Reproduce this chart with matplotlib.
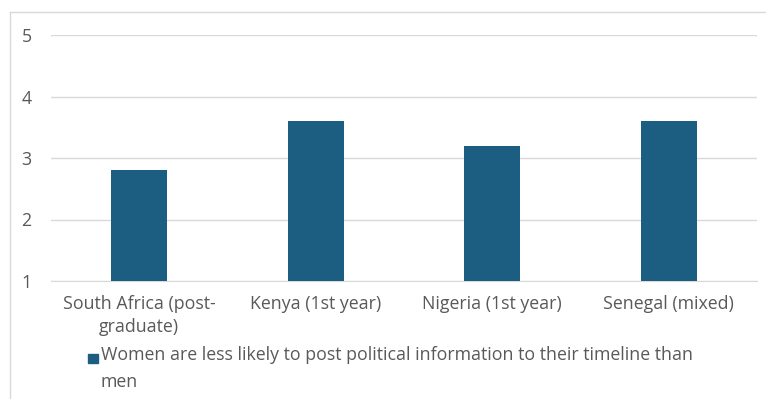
import matplotlib.pyplot as plt
from matplotlib.patches import Rectangle
from matplotlib.lines import Line2D

# --- data ---
categories = ['South Africa (post-\ngraduate)', 'Kenya (1st year)',
              'Nigeria (1st year)', 'Senegal (mixed)']
values = [2.8, 3.6, 3.2, 3.6]
series_label = 'Women are less likely to post political information to their timeline than\nmen'
yticks = [1, 2, 3, 4, 5]

bar_color = '#1B5E82'
text_color = '#595959'
grid_color = '#D9D9D9'

plt.rcParams['font.family'] = ['Open Sans', 'DejaVu Sans']
fs = 12.8

fig = plt.figure(figsize=(7.66, 3.99), dpi=100)
ax = fig.add_axes([51 / 766, 1 - 281 / 399, 706 / 766, 246 / 399])

x = range(len(categories))
# bars start at 1 because the axis starts at 1
ax.bar(x, [v - 1 for v in values], bottom=1, width=0.32, color=bar_color, zorder=3)

ax.set_xlim(-0.5, len(categories) - 0.5)
ax.set_ylim(1, 5)
ax.set_yticks(yticks)
ax.set_yticklabels([str(t) for t in yticks])
ax.set_xticks(list(x))
ax.set_xticklabels(categories, linespacing=1.35)

ax.grid(axis='y', color=grid_color, linewidth=1, zorder=0)
for s in ['top', 'right', 'left']:
    ax.spines[s].set_visible(False)
ax.spines['bottom'].set_color(grid_color)
ax.tick_params(axis='both', length=0, colors=text_color, labelsize=fs)
ax.tick_params(axis='y', pad=14)
ax.tick_params(axis='x', pad=10)

# chart border (cut off on right and bottom like the screenshot)
fig.add_artist(Line2D([10 / 766, 10 / 766], [0, 1 - 12 / 399], color=grid_color, lw=1))
fig.add_artist(Line2D([10 / 766, 1], [1 - 12 / 399, 1 - 12 / 399], color=grid_color, lw=1))

# legend drawn by hand so the marker sits on the first line
fig.add_artist(Rectangle((88 / 766, 1 - 363 / 399), 10 / 766, 9 / 399,
                         transform=fig.transFigure, color=bar_color))
fig.text(101 / 766, 1 - 387 / 399, series_label, ha='left', va='baseline',
         fontsize=fs, color=text_color, linespacing=1.65)

fig.savefig('out.png', dpi=100)
